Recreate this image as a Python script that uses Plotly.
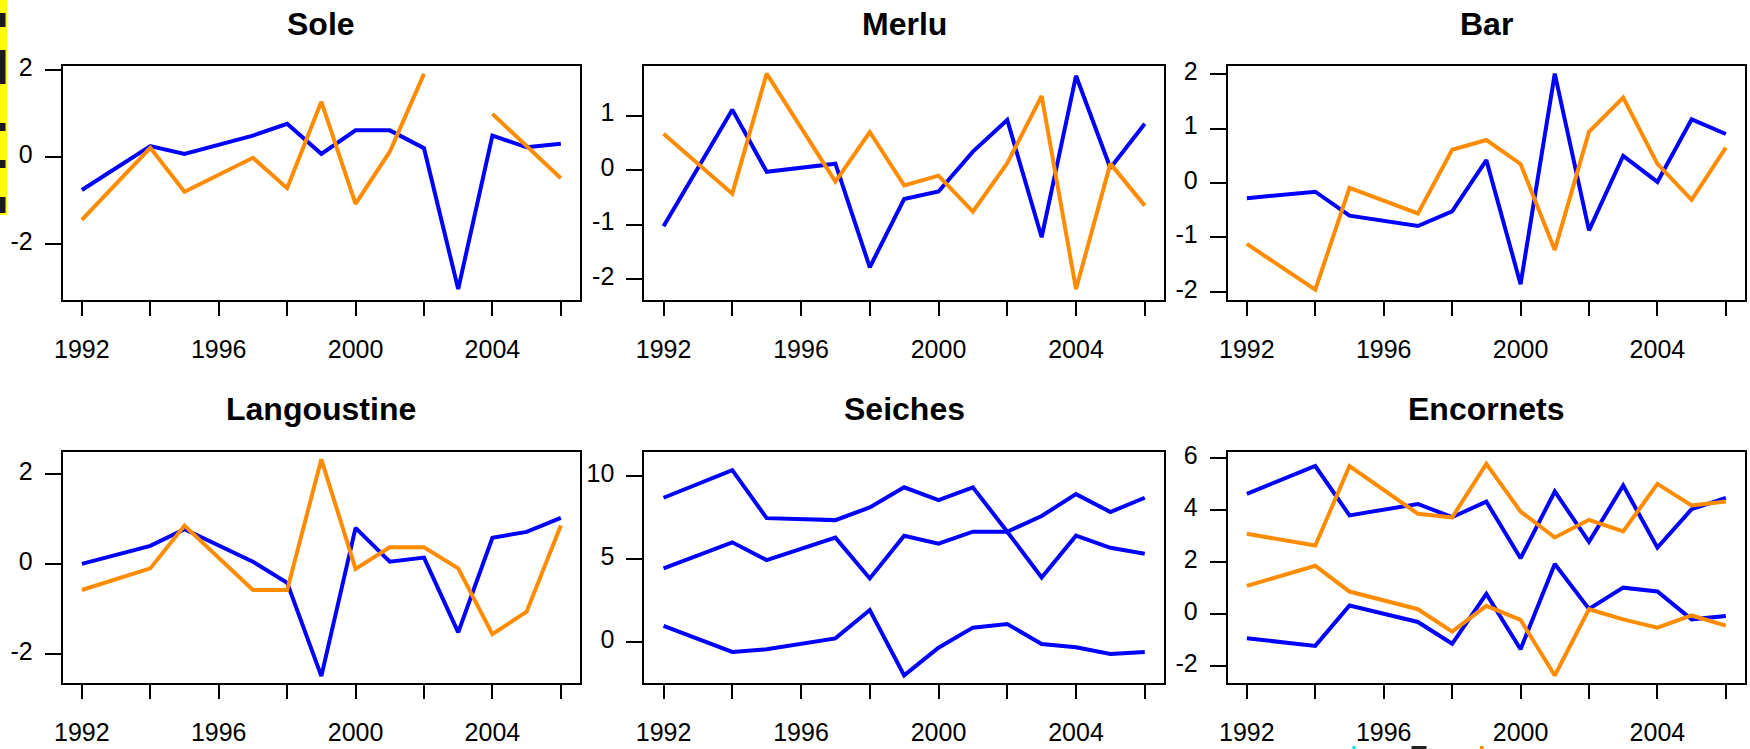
import plotly.graph_objects as go

# ---------------- data ----------------
years = [1992, 1994, 1995, 1997, 1998, 1999, 2000, 2001, 2002, 2003, 2004, 2005, 2006]

sole_blue = [-0.76, 0.25, 0.07, 0.49, 0.76, 0.07, 0.61, 0.61, 0.20, -3.04, 0.49, 0.22, 0.30]
sole_orange = [-1.45, 0.21, -0.80, -0.02, -0.72, 1.27, -1.08, 0.12, 1.91, None, 0.99, 0.25, -0.49]

merlu_blue = [-1.03, 1.11, -0.03, 0.12, -1.78, -0.53, -0.39, 0.34, 0.92, -1.23, 1.73, 0.04, 0.85]
merlu_orange = [0.67, -0.43, 1.77, -0.21, 0.70, -0.28, -0.10, -0.76, 0.13, 1.36, -2.18, 0.12, -0.65]

bar_blue = [-0.28, -0.16, -0.60, -0.79, -0.52, 0.42, -1.86, 2.01, -0.87, 0.50, 0.02, 1.17, 0.90]
bar_orange = [-1.12, -1.96, -0.09, -0.56, 0.61, 0.79, 0.35, -1.23, 0.94, 1.57, 0.35, -0.31, 0.65]

langoustine_blue = [0.00, 0.40, 0.77, 0.05, -0.42, -2.49, 0.80, 0.05, 0.14, -1.52, 0.58, 0.71, 1.02]
langoustine_orange = [-0.58, -0.10, 0.85, -0.58, -0.58, 2.32, -0.11, 0.37, 0.37, -0.10, -1.56, -1.06, 0.85]

seiches_blue_1 = [8.71, 10.38, 7.48, 7.36, 8.13, 9.34, 8.57, 9.34, 6.66, 7.61, 8.93, 7.85, 8.71]
seiches_blue_2 = [4.45, 6.02, 4.95, 6.30, 3.84, 6.42, 5.94, 6.66, 6.66, 3.90, 6.42, 5.69, 5.33]
seiches_blue_3 = [0.97, -0.60, -0.44, 0.22, 1.93, -2.01, -0.34, 0.87, 1.09, -0.12, -0.32, -0.72, -0.60]

encornets_blue_1 = [4.62, 5.69, 3.79, 4.23, 3.72, 4.32, 2.14, 4.71, 2.77, 4.94, 2.55, 4.03, 4.46]
encornets_blue_2 = [-0.94, -1.23, 0.32, -0.31, -1.15, 0.77, -1.36, 1.92, 0.19, 1.01, 0.86, -0.21, -0.08]
encornets_orange_1 = [3.08, 2.63, 5.69, 3.85, 3.71, 5.77, 3.94, 2.94, 3.62, 3.17, 5.00, 4.17, 4.32]
encornets_orange_2 = [1.08, 1.85, 0.86, 0.18, -0.68, 0.31, -0.23, -2.37, 0.18, -0.21, -0.53, -0.06, -0.45]

titles = ["Sole", "Merlu", "Bar", "Langoustine", "Seiches", "Encornets"]
x_tickvals = [1992, 1994, 1996, 1998, 2000, 2002, 2004, 2006]
x_ticktext = ["1992", "", "1996", "", "2000", "", "2004", ""]
y_ticks = [
    [-2, 0, 2],
    [-2, -1, 0, 1],
    [-2, -1, 0, 1, 2],
    [-2, 0, 2],
    [0, 5, 10],
    [-2, 0, 2, 4, 6],
]
y_ranges = [
    [-3.29, 2.09],
    [-2.38, 1.91],
    [-2.15, 2.15],
    [-2.65, 2.49],
    [-2.49, 11.49],
    [-2.67, 6.24],
]

BLUE = "#0000FF"
ORANGE = "#FF8C00"

panels = [
    [(sole_blue, BLUE), (sole_orange, ORANGE)],
    [(merlu_blue, BLUE), (merlu_orange, ORANGE)],
    [(bar_blue, BLUE), (bar_orange, ORANGE)],
    [(langoustine_blue, BLUE), (langoustine_orange, ORANGE)],
    [(seiches_blue_1, BLUE), (seiches_blue_2, BLUE), (seiches_blue_3, BLUE)],
    [(encornets_blue_1, BLUE), (encornets_blue_2, BLUE),
     (encornets_orange_1, ORANGE), (encornets_orange_2, ORANGE)],
]

# ---------------- layout geometry (pixels) ----------------
W, H = 1750, 749
cols = [(62.7, 580.0), (644.3, 1164.0), (1227.7, 1745.0)]
rows = [(66.0, 300.0), (451.7, 683.3)]
title_y = [24.5, 409.0]

FONT = "Liberation Sans, Arial, Helvetica, sans-serif"

fig = go.Figure()
layout = dict(
    width=W, height=H,
    margin=dict(l=0, r=0, t=0, b=0, autoexpand=False),
    paper_bgcolor="white", plot_bgcolor="white",
    showlegend=False,
    font=dict(family=FONT, color="black"),
    annotations=[],
    shapes=[],
)

for i in range(6):
    r, c = divmod(i, 3)
    n = i + 1
    xa = "x" if n == 1 else f"x{n}"
    ya = "y" if n == 1 else f"y{n}"
    for vals, col in panels[i]:
        fig.add_trace(go.Scatter(
            x=years, y=vals, mode="lines", xaxis=xa, yaxis=ya,
            line=dict(color=col, width=4), connectgaps=False,
            hoverinfo="skip",
        ))
    x0, x1 = cols[c]
    y0, y1 = rows[r]
    common = dict(
        showline=True, mirror=True, linecolor="black", linewidth=2,
        ticks="outside", tickcolor="black", tickwidth=2,
        showgrid=False, zeroline=False, automargin=False,
        tickfont=dict(family=FONT, size=25, color="black"),
    )
    layout["xaxis" if n == 1 else f"xaxis{n}"] = dict(
        common, domain=[x0 / W, x1 / W], anchor=ya,
        range=[1991.44, 2006.56], tickmode="array",
        tickvals=x_tickvals, ticktext=x_ticktext, ticklen=14,
        ticklabelstandoff=12,
    )
    layout["yaxis" if n == 1 else f"yaxis{n}"] = dict(
        common, domain=[1 - y1 / H, 1 - y0 / H], anchor=xa,
        range=y_ranges[i], tickmode="array",
        tickvals=y_ticks[i], ticktext=[str(v) for v in y_ticks[i]],
        ticklen=16, ticklabelstandoff=7, ticklabelshift=-3,
    )
    layout["annotations"].append(dict(
        text=f"<b>{titles[i]}</b>", xref="paper", yref="paper",
        x=(x0 + x1) / 2 / W, y=1 - title_y[r] / H,
        xanchor="center", yanchor="middle", showarrow=False,
        font=dict(family=FONT, size=32, color="black"),
    ))

# cropped-edge artifacts of the source image (left strip, bottom specks)
def px_rect(xa_, xb_, ya_, yb_, color):
    return dict(type="rect", xref="paper", yref="paper",
                x0=xa_ / W, x1=xb_ / W, y0=1 - yb_ / H, y1=1 - ya_ / H,
                fillcolor=color, line=dict(width=0), layer="above")

layout["shapes"].append(px_rect(0, 7, 0, 215, "#FFFF00"))
for a, b in [(13, 27), (50, 84), (123, 131), (160, 168), (197, 213)]:
    layout["shapes"].append(px_rect(0, 5.5, a, b, "#1a1a1a"))
layout["shapes"].append(px_rect(1352.5, 1355.5, 746, 749, "#00E5EE"))
layout["shapes"].append(px_rect(1411.5, 1426.5, 746, 749, "#222222"))
layout["shapes"].append(px_rect(1480, 1483.5, 746, 749, "#FF8C00"))

fig.update_layout(**layout)
fig.write_html(
    "out.html",
    config={"displayModeBar": False},
    post_script="document.body.style.margin='0';document.body.style.overflow='hidden';",
)
